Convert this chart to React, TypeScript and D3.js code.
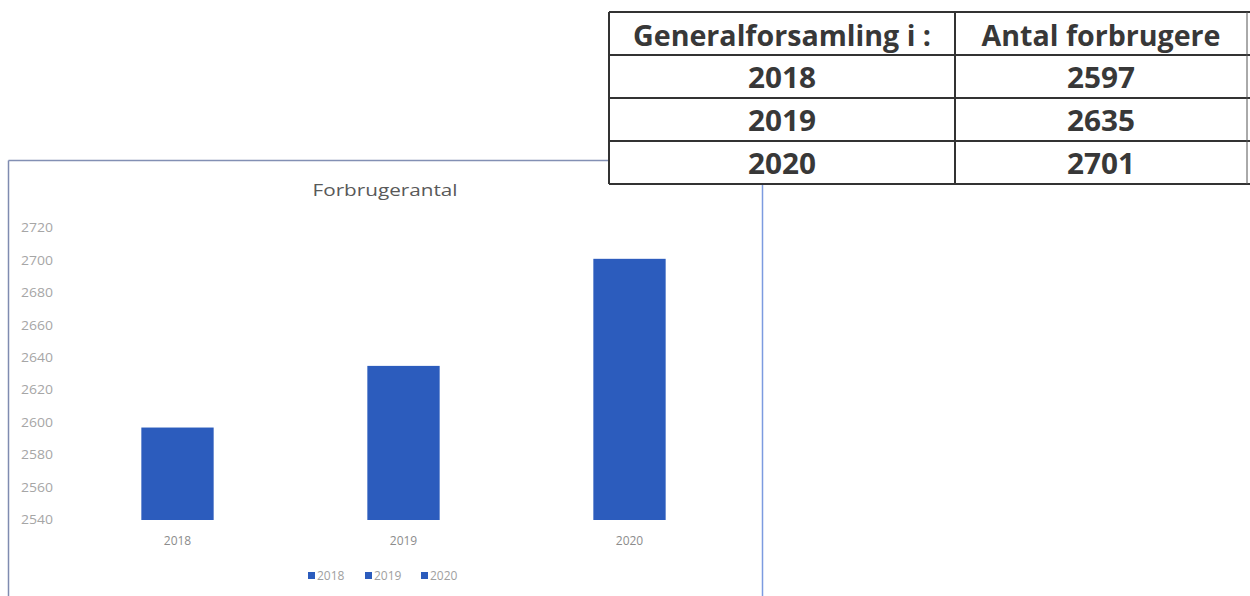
import React from "react";
import * as d3 from "d3";

const categories: string[] = ["2018", "2019", "2020"];
const values: number[] = [2597, 2635, 2701];
const yTicks: number[] = [2540, 2560, 2580, 2600, 2620, 2640, 2660, 2680, 2700, 2720];
const tableHeader: string[] = ["Generalforsamling i :", "Antal forbrugere"];
const tableYears: string[] = ["2018", "2019", "2020"];
const tableCounts: string[] = ["2597", "2635", "2701"];
const chartTitle = "Forbrugerantal";

const BAR = "#2c5cbd";
const AXIS_TEXT = "#a6a6a6";

export default function App() {
  const x = d3.scaleBand<string>().domain(categories).range([64.5, 742.5]).paddingInner(0.68).paddingOuter(0.34);
  const y = d3.scaleLinear().domain([2540, 2720]).range([520, 228]);

  const rowLines = [12, 55, 98, 141, 184];
  const tLeft = 609, tMid = 955, tRight = 1247;
  const c1 = (tLeft + tMid) / 2, c2 = (tMid + tRight) / 2;
  const headerWidths = [298, 239];
  const tFont = "'Open Sans', 'Noto Sans', sans-serif";
  const cFont = "'Open Sans', 'Noto Sans', sans-serif";

  // legend layout
  const legendX = [308, 365, 421];

  return (
    <svg width={1250} height={596} style={{ position: "absolute", left: 0, top: 0, display: "block", background: "#fff" }}>
      {/* chart frame */}
      <line x1={8.5} y1={160.5} x2={8.5} y2={600} stroke="#7f8bb0" strokeWidth={1.5} />
      <line x1={8.5} y1={160.5} x2={762.5} y2={160.5} stroke="#8390b4" strokeWidth={1.5} />
      <line x1={762.5} y1={160.5} x2={762.5} y2={600} stroke="#7c9be0" strokeWidth={1.5} />

      {/* title */}
      <text x={385} y={196} textAnchor="middle" fontFamily={cFont} fontSize={16} fill="#595959" textLength={145} lengthAdjust="spacingAndGlyphs">
        {chartTitle}
      </text>

      {/* y axis labels */}
      {yTicks.map((t) => (
        <text key={t} x={21} y={y(t)} dy="0.35em" fontFamily={cFont} fontSize={12} fill={AXIS_TEXT} textLength={32} lengthAdjust="spacingAndGlyphs">
          {t}
        </text>
      ))}

      {/* bars */}
      {categories.map((c, i) => (
        <rect key={c} x={x(c)} y={y(values[i])} width={x.bandwidth()} height={y(2540) - y(values[i])} fill={BAR} />
      ))}

      {/* x labels */}
      {categories.map((c) => (
        <text key={c} x={(x(c) as number) + x.bandwidth() / 2} y={541} dy="0.35em" textAnchor="middle" fontFamily={cFont} fontSize={12} fill="#8c8c8c">
          {c}
        </text>
      ))}

      {/* legend */}
      {categories.map((c, i) => (
        <g key={c}>
          <rect x={legendX[i]} y={572} width={7} height={7} fill={BAR} />
          <text x={legendX[i] + 9} y={575.5} dy="0.35em" fontFamily={cFont} fontSize={12} fill="#a0a0a0">
            {c}
          </text>
        </g>
      ))}

      {/* table */}
      <rect x={tLeft} y={rowLines[0]} width={tRight - tLeft + 10} height={rowLines[4] - rowLines[0]} fill="#fff" />
      {rowLines.map((ly) => (
        <line key={ly} x1={tLeft} x2={1250} y1={ly} y2={ly} stroke="#333" strokeWidth={2} />
      ))}
      <line x1={tLeft} x2={tLeft} y1={rowLines[0]} y2={rowLines[4]} stroke="#333" strokeWidth={2} />
      <line x1={tMid} x2={tMid} y1={rowLines[0]} y2={rowLines[4]} stroke="#333" strokeWidth={2} />
      <line x1={tRight} x2={tRight} y1={rowLines[0]} y2={rowLines[4]} stroke="#555" strokeWidth={1} />

      <text x={c1} y={46} textAnchor="middle" fontFamily={tFont} fontWeight={700} fontSize={28} fill="#383838" textLength={headerWidths[0]} lengthAdjust="spacingAndGlyphs">
        {tableHeader[0]}
      </text>
      <text x={c2} y={46} textAnchor="middle" fontFamily={tFont} fontWeight={700} fontSize={28} fill="#383838" textLength={headerWidths[1]} lengthAdjust="spacingAndGlyphs">
        {tableHeader[1]}
      </text>
      {tableYears.map((yr, i) => (
        <g key={yr}>
          <text x={c1} y={88 + i * 43} textAnchor="middle" fontFamily={tFont} fontWeight={700} fontSize={29} fill="#383838" textLength={68} lengthAdjust="spacingAndGlyphs">
            {yr}
          </text>
          <text x={c2} y={88 + i * 43} textAnchor="middle" fontFamily={tFont} fontWeight={700} fontSize={29} fill="#383838" textLength={68} lengthAdjust="spacingAndGlyphs">
            {tableCounts[i]}
          </text>
        </g>
      ))}
    </svg>
  );
}
